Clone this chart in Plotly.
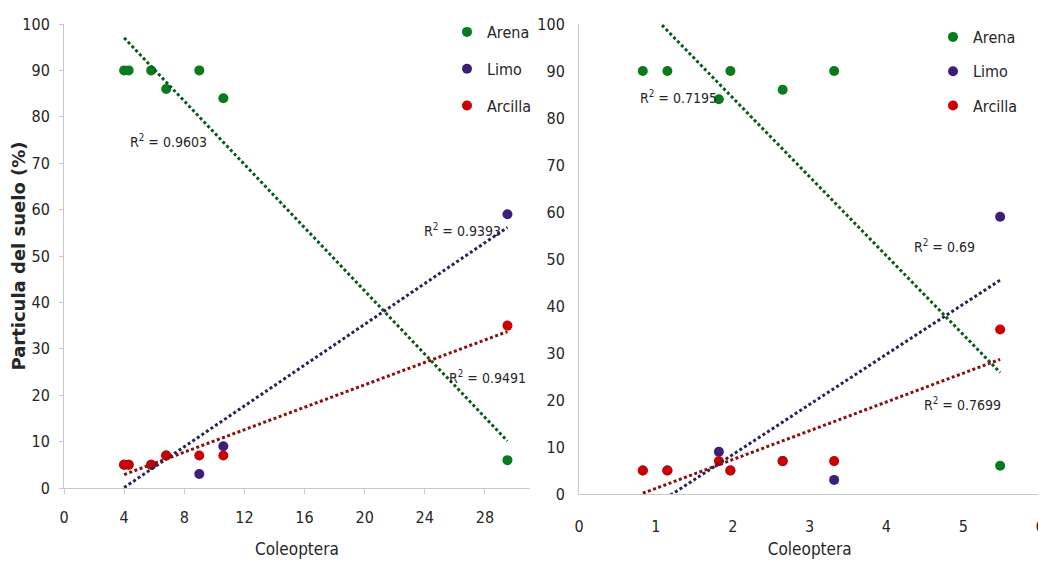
import numpy as np
import plotly.graph_objects as go

# ---------------- data ----------------
series = ["Arena", "Limo", "Arcilla"]

left_x = [4.0, 4.3, 5.8, 6.8, 9.0, 10.6, 29.5]
left_arena = [90, 90, 90, 86, 90, 84, 6]
left_limo = [5, 5, 5, 7, 3, 9, 59]
left_arcilla = [5, 5, 5, 7, 7, 7, 35]
left_r2 = ["0.9603", "0.9393", "0.9491"]

right_x = [0.83, 1.15, 1.82, 1.97, 2.65, 3.32, 5.48]
right_arena = [90, 90, 84, 90, 86, 90, 6]
right_limo = [5, 5, 9, 5, 7, 3, 59]
right_arcilla = [5, 5, 7, 5, 7, 7, 35]
right_r2 = ["0.7195", "0.69", "0.7699"]

left_xticks = [0, 4, 8, 12, 16, 20, 24, 28]
right_xticks = [0, 1, 2, 3, 4, 5, 6]
yticks = [0, 10, 20, 30, 40, 50, 60, 70, 80, 90, 100]

# ---------------- style ----------------
marker_colors = {"Arena": "#0a7a1e", "Limo": "#3b1f78", "Arcilla": "#cc0000"}
line_colors = {"Arena": "#0b5a1c", "Limo": "#2a2450", "Arcilla": "#8a1010"}
NARROW = "DejaVu Sans Condensed, Roboto, sans-serif"
TXT = "#262626"
OFF = 8                      # page body margin
W, H = 1046 - OFF, 561 - OFF

fig = go.Figure()

panels = [
    ("x", "y", "legend", left_x, [left_arena, left_limo, left_arcilla]),
    ("x2", "y2", "legend2", right_x, [right_arena, right_limo, right_arcilla]),
]
for xa, ya, leg, xs, ys_list in panels:
    for name, ys in zip(series, ys_list):
        fig.add_trace(go.Scatter(
            x=xs, y=ys, mode="markers", name=name, xaxis=xa, yaxis=ya,
            legend=leg, legendgroup=name + leg,
            marker=dict(color=marker_colors[name], size=10, line=dict(width=0)),
        ))
    for name, ys in zip(series, ys_list):
        b, a = np.polyfit(xs, ys, 1)
        x0, x1 = min(xs), max(xs)
        fig.add_trace(go.Scatter(
            x=[x0, x1], y=[a + b * x0, a + b * x1], mode="lines",
            xaxis=xa, yaxis=ya, showlegend=False, hoverinfo="skip",
            line=dict(color=line_colors[name], width=3, dash="3px,2.5px"),
        ))

def px_x(p):
    return (p - OFF) / W

def px_y(p):
    return 1 - (p - OFF) / H

axis_common = dict(
    showgrid=False, zeroline=False, showline=True, linecolor="#c8c8c8",
    linewidth=1, automargin=False,
    tickfont=dict(family=NARROW, size=16, color=TXT),
)

fig.update_layout(
    width=W, height=H,
    margin=dict(l=0, r=0, t=0, b=0, autoexpand=False),
    paper_bgcolor="white", plot_bgcolor="white",
    font=dict(family=NARROW, color=TXT),
    xaxis=dict(**axis_common, domain=[px_x(64), px_x(530)], range=[0, 31],
               tickvals=left_xticks, ticks="outside", ticklen=5, tickcolor="#c8c8c8",
               ticklabelstandoff=10, anchor="y",
               title=dict(text="Coleoptera", standoff=16,
                          font=dict(family=NARROW, size=17, color=TXT))),
    yaxis=dict(**axis_common, domain=[px_y(488), px_y(24)], range=[0, 100],
               tickvals=yticks, ticks="outside", ticklen=4, tickcolor="#c8c8c8",
               ticklabelstandoff=6, anchor="x",
               title=dict(text="Particula del suelo (%)", standoff=3,
                          font=dict(family="DejaVu Sans", size=18, color=TXT, weight="bold"))),
    xaxis2=dict(**axis_common, domain=[px_x(579), px_x(1040.5)], range=[0, 6.005],
                tickvals=right_xticks, ticks="", ticklabelstandoff=18, anchor="y2",
                title=dict(text="Coleoptera", standoff=7,
                           font=dict(family=NARROW, size=17, color=TXT))),
    yaxis2=dict(**axis_common, domain=[px_y(494), px_y(24)], range=[0, 100],
                tickvals=yticks, ticks="", ticklabelstandoff=10, anchor="x2"),
    legend=dict(x=px_x(447), y=px_y(15), xanchor="left", yanchor="top",
                bgcolor="rgba(0,0,0,0)", tracegroupgap=13, traceorder="grouped",
                font=dict(family=NARROW, size=16, color=TXT)),
    legend2=dict(x=px_x(933), y=px_y(20), xanchor="left", yanchor="top",
                 bgcolor="rgba(0,0,0,0)", tracegroupgap=10.5, traceorder="grouped",
                 font=dict(family=NARROW, size=16, color=TXT)),
    showlegend=True,
)

# R² labels
r2_pos = [
    ("x", "y", 6.93, 74.8, left_r2[0]),
    ("x", "y", 26.53, 55.6, left_r2[1]),
    ("x", "y", 28.15, 23.9, left_r2[2]),
    ("x2", "y2", 1.30, 84.5, right_r2[0]),
    ("x2", "y2", 4.75, 52.8, right_r2[1]),
    ("x2", "y2", 4.99, 19.1, right_r2[2]),
]
for xa, ya, xv, yv, val in r2_pos:
    fig.add_annotation(x=xv, y=yv, xref=xa, yref=ya, showarrow=False,
                       text="R<sup>2</sup> = " + val,
                       font=dict(family=NARROW, size=14, color=TXT))

fig.write_html("out.html")
